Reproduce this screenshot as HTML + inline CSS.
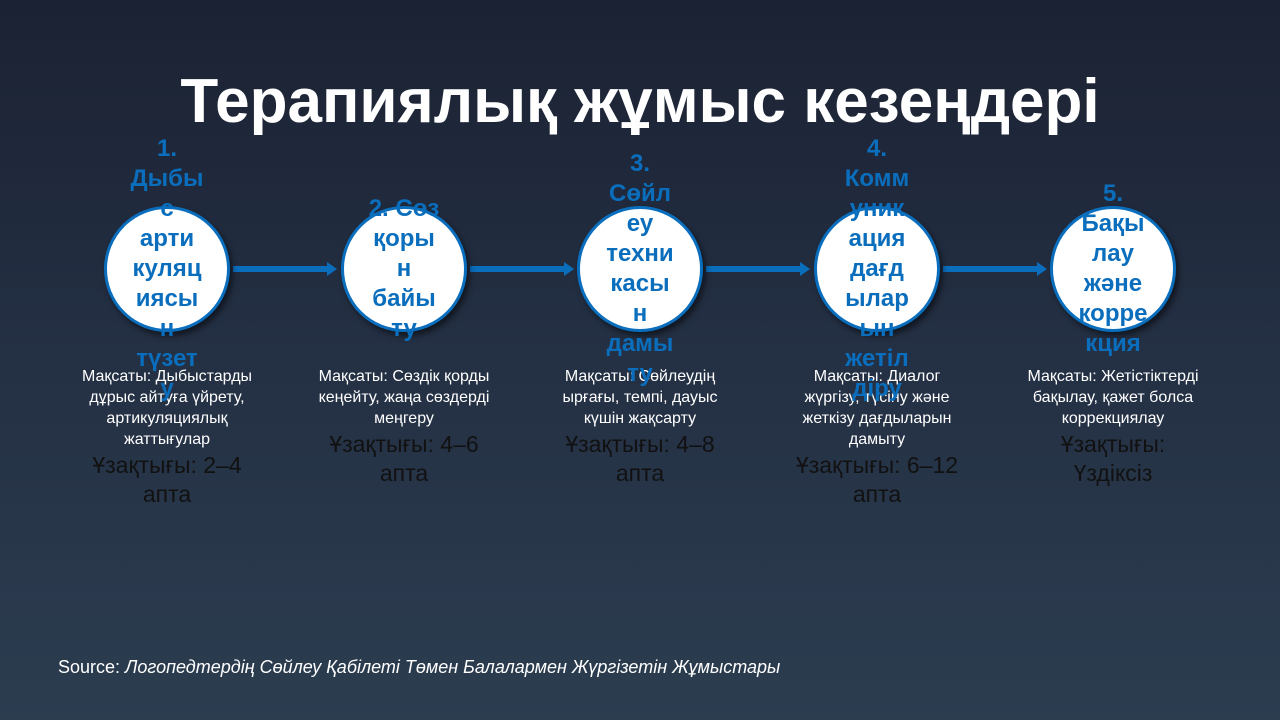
<!DOCTYPE html>
<html><head><meta charset="utf-8"><style>
*{margin:0;padding:0;box-sizing:border-box}
body{width:1280px;height:720px;overflow:hidden;background:linear-gradient(180deg,#1b2233 0%,#243044 50%,#2c3d50 100%);font-family:"Liberation Sans","DejaVu Sans",sans-serif;position:relative}
.title{position:absolute;left:0;width:1280px;top:66px;text-align:center;color:#fff;font-weight:bold;font-size:62px;line-height:72px;letter-spacing:0px}
.circle{position:absolute;width:126px;height:126px;border-radius:50%;background:#fff;border:3px solid #0a6ebd;box-shadow:3px 4px 6px rgba(0,0,0,.5)}
.lab{position:absolute;width:120px;text-align:center;color:#0a6ebd;font-weight:bold;font-size:24px;line-height:30px;z-index:3}
.desc{position:absolute;width:230px;text-align:center;color:#fff;font-size:16px;line-height:21px;top:366px;z-index:2}
.dur{color:#111;font-size:23px;line-height:29px;margin-top:1px}
.arrow{position:absolute;top:262px;height:14px;width:104px}
.src{position:absolute;left:58px;top:657px;color:#fff;font-size:18px}
</style></head><body>
<div class="title">Терапиялық жұмыс кезеңдері</div>

<svg class="arrow" style="left:233px" viewBox="0 0 104 14"><rect x="0" y="4" width="96" height="6" fill="#0a6ebd"/><polygon points="94,0 104,7 94,14" fill="#0a6ebd"/></svg>
<svg class="arrow" style="left:470px" viewBox="0 0 104 14"><rect x="0" y="4" width="96" height="6" fill="#0a6ebd"/><polygon points="94,0 104,7 94,14" fill="#0a6ebd"/></svg>
<svg class="arrow" style="left:706px" viewBox="0 0 104 14"><rect x="0" y="4" width="96" height="6" fill="#0a6ebd"/><polygon points="94,0 104,7 94,14" fill="#0a6ebd"/></svg>
<svg class="arrow" style="left:943px" viewBox="0 0 104 14"><rect x="0" y="4" width="96" height="6" fill="#0a6ebd"/><polygon points="94,0 104,7 94,14" fill="#0a6ebd"/></svg>

<div class="circle" style="left:104px;top:206px"></div>
<div class="circle" style="left:341px;top:206px"></div>
<div class="circle" style="left:577px;top:206px"></div>
<div class="circle" style="left:814px;top:206px"></div>
<div class="circle" style="left:1050px;top:206px"></div>

<div class="desc" style="left:52px">Мақсаты: Дыбыстарды<br>дұрыс айтуға үйрету,<br>артикуляциялық<br>жаттығулар<div class="dur">Ұзақтығы: 2–4<br>апта</div></div>
<div class="desc" style="left:289px">Мақсаты: Сөздік қорды<br>кеңейту, жаңа сөздерді<br>меңгеру<div class="dur">Ұзақтығы: 4–6<br>апта</div></div>
<div class="desc" style="left:525px">Мақсаты: Сөйлеудің<br>ырғағы, темпі, дауыс<br>күшін жақсарту<div class="dur">Ұзақтығы: 4–8<br>апта</div></div>
<div class="desc" style="left:762px">Мақсаты: Диалог<br>жүргізу, түсіну және<br>жеткізу дағдыларын<br>дамыту<div class="dur">Ұзақтығы: 6–12<br>апта</div></div>
<div class="desc" style="left:998px">Мақсаты: Жетістіктерді<br>бақылау, қажет болса<br>коррекциялау<div class="dur">Ұзақтығы:<br>Үздіксіз</div></div>

<div class="lab" style="left:107px;top:134px">1.<br>Дыбы<br>с<br>арти<br>куляц<br>иясы<br>н<br>түзет<br>у</div>
<div class="lab" style="left:344px;top:194px">2. Сөз<br>қоры<br>н<br>байы<br>ту</div>
<div class="lab" style="left:580px;top:149px">3.<br>Сөйл<br>еу<br>техни<br>касы<br>н<br>дамы<br>ту</div>
<div class="lab" style="left:817px;top:134px">4.<br>Комм<br>уник<br>ация<br>дағд<br>ылар<br>ын<br>жетіл<br>діру</div>
<div class="lab" style="left:1053px;top:179px">5.<br>Бақы<br>лау<br>және<br>корре<br>кция</div>

<div class="src">Source: <i>Логопедтердің Сөйлеу Қабілеті Төмен Балалармен Жүргізетін Жұмыстары</i></div>
</body></html>
